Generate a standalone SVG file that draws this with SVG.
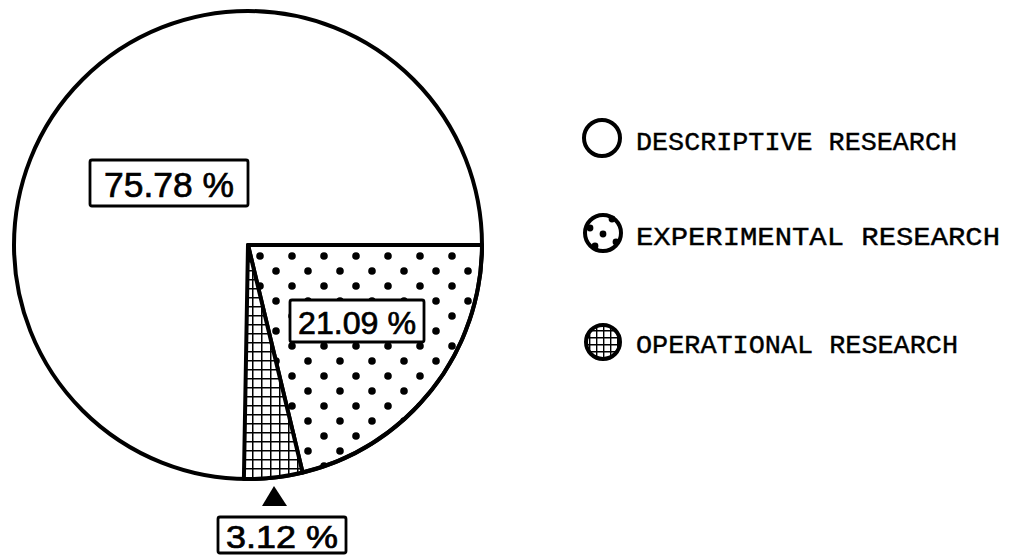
<svg xmlns="http://www.w3.org/2000/svg" width="1015" height="560" viewBox="0 0 1015 560">
<defs>
<pattern id="dots" patternUnits="userSpaceOnUse" width="32" height="30" x="254" y="250">
<circle cx="6" cy="6" r="3.8" fill="#000"/>
<circle cx="22" cy="21" r="3.8" fill="#000"/>
</pattern>
<pattern id="grid" patternUnits="userSpaceOnUse" width="9" height="9" x="0" y="0">
<rect width="9" height="9" fill="#fff"/>
<path d="M0 0H9M0 0V9" stroke="#000" stroke-width="3"/>
</pattern>
<pattern id="grid2" patternUnits="userSpaceOnUse" width="7" height="7" x="1" y="1">
<rect width="7" height="7" fill="#fff"/>
<path d="M0 0H7M0 0V7" stroke="#000" stroke-width="2.8"/>
</pattern>
<style>
.box{fill:#fff;stroke:#000;stroke-width:2.8}
.pct{font-family:"Liberation Sans","DejaVu Sans",sans-serif;fill:#000;stroke:#000;stroke-width:0.7;text-anchor:middle}
.leg{font-family:"Liberation Mono","DejaVu Sans Mono",monospace;font-size:26px;fill:#000;stroke:#000;stroke-width:0.4}
</style>
</defs>
<rect width="1015" height="560" fill="#fff"/>
<g id="pie">
<circle cx="248" cy="245" r="234" fill="#fff" stroke="#000" stroke-width="4"/>
<path id="slice-experimental" d="M248 245 L482 245 A234 234 0 0 1 302.6 472.5 Z" fill="url(#dots)" stroke="#000" stroke-width="4" stroke-linejoin="round"/>
<path id="slice-operational" d="M248 245 L302.6 472.5 A234 234 0 0 1 243.9 479 Z" fill="url(#grid)" stroke="#000" stroke-width="4" stroke-linejoin="round"/>
</g>
<g id="label-descriptive">
<rect class="box" x="90" y="160" width="158" height="46" rx="2"/>
<text class="pct" x="169" y="197" font-size="35" textLength="130" lengthAdjust="spacingAndGlyphs">75.78 %</text>
</g>
<g id="label-experimental">
<rect class="box" x="290" y="300" width="134" height="42" rx="2"/>
<text class="pct" x="357" y="334" font-size="32" textLength="118" lengthAdjust="spacingAndGlyphs">21.09 %</text>
</g>
<g id="label-operational">
<rect class="box" x="218" y="517" width="128" height="36" rx="2"/>
<text class="pct" x="282" y="548" font-size="31" textLength="112" lengthAdjust="spacingAndGlyphs">3.12 %</text>
</g>
<g id="connectors">
<path d="M274 486 L262 506 L287 506 Z" fill="#000"/>
</g>
<g id="legend-descriptive">
<circle cx="602" cy="138" r="18" fill="#fff" stroke="#000" stroke-width="4"/>
<text class="leg" x="636" y="150" textLength="321" lengthAdjust="spacingAndGlyphs">DESCRIPTIVE RESEARCH</text>
</g>
<g id="legend-experimental">
<circle cx="603" cy="233" r="18" fill="#fff" stroke="#000" stroke-width="4"/>
<circle cx="603" cy="234" r="3.4" fill="#000"/>
<circle cx="612" cy="219" r="3.4" fill="#000"/>
<circle cx="590" cy="228" r="3.4" fill="#000"/>
<circle cx="616" cy="242" r="3.4" fill="#000"/>
<circle cx="595" cy="246" r="3.4" fill="#000"/>
<text class="leg" x="636" y="245" textLength="364" lengthAdjust="spacingAndGlyphs">EXPERIMENTAL RESEARCH</text>
</g>
<g id="legend-operational">
<circle cx="603" cy="342" r="17" fill="url(#grid2)" stroke="#000" stroke-width="4"/>
<text class="leg" x="636" y="353" textLength="322" lengthAdjust="spacingAndGlyphs">OPERATIONAL RESEARCH</text>
</g>
</svg>
